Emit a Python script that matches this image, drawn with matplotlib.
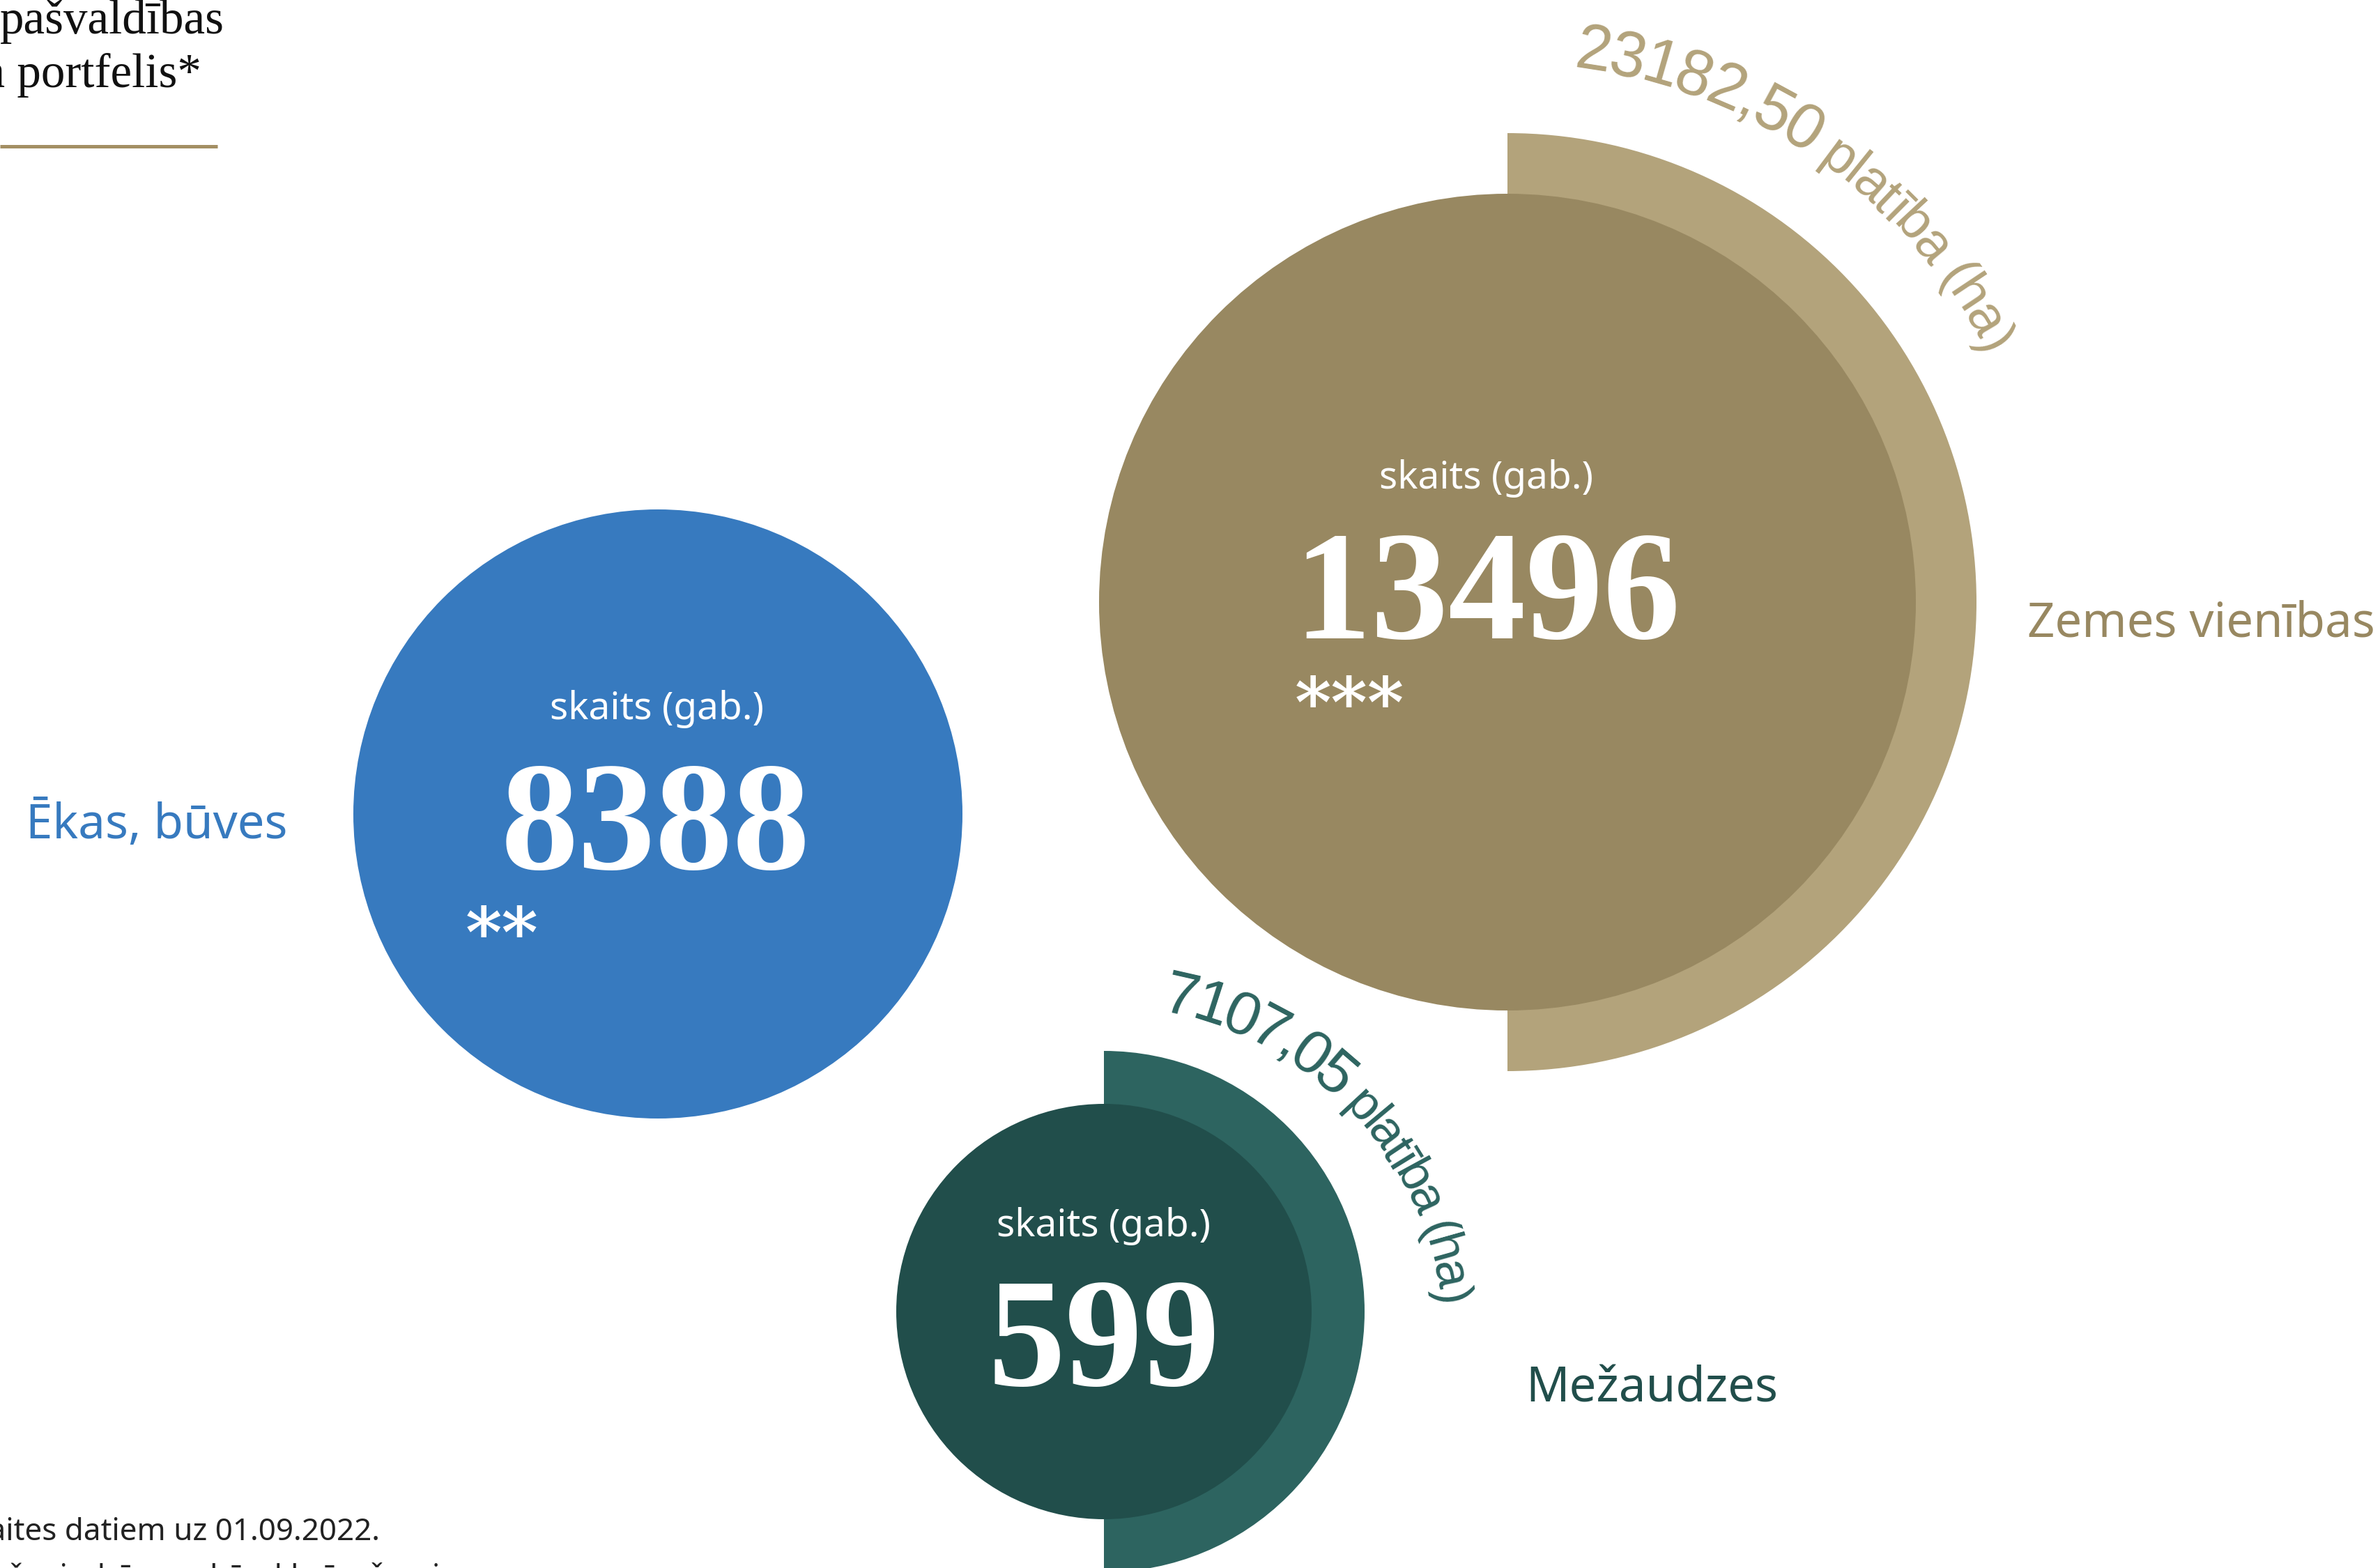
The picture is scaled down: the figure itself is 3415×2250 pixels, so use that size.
import numpy as np
import matplotlib
matplotlib.use("Agg")
import matplotlib.pyplot as plt
from matplotlib.patches import Circle, Wedge
from matplotlib.font_manager import FontProperties, findfont
from matplotlib.ft2font import FT2Font

# data
categories = ["Ēkas, būves", "Zemes vienības", "Mežaudzes"]
counts = [8388, 13496, 599]
count_marks = ["**", "***", ""]
areas = [None, "23182,50", "7107,05"]
count_label = "skaits (gab.)"
area_label = "platība (ha)"
title_lines = ["pašvaldības", "īpašuma portfelis*"]
notes = ["uzskaites datiem uz 01.09.2022.", "** ēkas, inženierbūves, dzīvokļu īpašumi"]

W, H, DPI = 3416, 2250, 100
PT = 72.0 / DPI   # pixel -> point

# layout (pixels)
centers = [(944, 1168), (2163, 864), (1584, 1882)]
r_in = [437, 586, 298]
r_out = [None, 673, 374]
c_in = ["#377ABF", "#988861", "#214E4B"]
c_out = [None, "#B3A37B", "#2D6460"]
lab_col = ["#377ABF", "#988861", "#214E4B"]
lab_pos = [(37, 1203), (2909, 913), (2189, 2011)]
num_pos = [(941, 1247), (2134, 916), (1584, 1988)]
sk_pos = [(943, 1032), (2133, 701), (1584, 1774)]
star_pos = [(668, 1373), (1858, 1043), None]
# arc path of the area text: centre, baseline radius, angle of first / last glyph centre,
# size of the number part and of the unit part (px)
arc_path = [None, (2163, 864, 773, 8.9, 61.8, 92, 78), (1581, 1932, 488, 12.8, 81.7, 88, 72)]

arc_family = "Liberation Sans"
sans = "Noto Sans"
serif = "Liberation Serif"

fig = plt.figure(figsize=(W / DPI, H / DPI), dpi=DPI)
ax = fig.add_axes([0, 0, 1, 1])
ax.set_xlim(0, W)
ax.set_ylim(H, 0)
ax.axis("off")

font = FT2Font(findfont(FontProperties(family=arc_family)))


def advance(c, size_px):
    font.set_size(size_px * PT, DPI)
    return font.load_char(ord(c)).linearHoriAdvance / 65536


def arc_text(num, unit, cx, cy, R, th0, th1, color, s_num, s_unit):
    chars = list(num) + list(" " + unit)
    sizes = [s_num] * len(num) + [s_unit] * (len(unit) + 1)
    adv = np.array([advance(c, s) for c, s in zip(chars, sizes)])
    xc = np.cumsum(np.r_[0, adv[:-1]]) + adv / 2
    th = th0 + (xc - xc[0]) / (xc[-1] - xc[0]) * (th1 - th0)
    for c, s, t in zip(chars, sizes, th):
        if c == " ":
            continue
        tr = np.radians(t)
        ax.text(cx + R * np.sin(tr), cy - R * np.cos(tr), c, rotation=-t,
                rotation_mode="anchor", ha="center", va="baseline",
                family=arc_family, fontsize=s * PT, color=color)


for i in range(len(categories)):
    cx, cy = centers[i]
    if r_out[i]:
        ax.add_patch(Wedge((cx, cy), r_out[i], -90, 90, color=c_out[i], lw=0))
    ax.add_patch(Circle((cx, cy), r_in[i], color=c_in[i], lw=0))

    x, y = sk_pos[i]
    ax.text(x, y, count_label, ha="center", va="baseline", family=sans,
            fontweight="light", fontsize=55 * PT, color="white")
    x, y = num_pos[i]
    ax.text(x, y, str(counts[i]), ha="center", va="baseline", family=serif,
            fontweight="bold", fontsize=222 * PT, color="white")
    if count_marks[i]:
        x, y = star_pos[i]
        ax.text(x, y, count_marks[i], ha="left", va="baseline", family="DejaVu Serif",
                fontweight="bold", fontsize=100 * PT, color="white")
    x, y = lab_pos[i]
    ax.text(x, y, categories[i], ha="left", va="baseline", family=sans,
            fontweight="light", fontsize=69 * PT, color=lab_col[i])
    if areas[i]:
        acx, acy, R, t0, t1, sn, su = arc_path[i]
        arc_text(areas[i], area_label, acx, acy, R, t0, t1, c_out[i], sn, su)

# title
ax.text(322, 48, title_lines[0], ha="right", va="baseline", family=serif,
        fontsize=69 * PT, color="#111111")
ax.text(290, 125, title_lines[1], ha="right", va="baseline", family=serif,
        fontsize=69 * PT, color="#111111")
ax.plot([0, 312], [209.5, 209.5], color="#A38F63", lw=5 * PT, solid_capstyle="butt")

# notes
ax.text(545, 2210, notes[0], ha="right", va="baseline", family=sans,
        fontweight="light", fontsize=44 * PT, color="#222222")
ax.text(631, 2276, notes[1], ha="right", va="baseline", family=sans,
        fontweight="light", fontsize=44 * PT, color="#222222")

fig.savefig("out.png", dpi=DPI)
